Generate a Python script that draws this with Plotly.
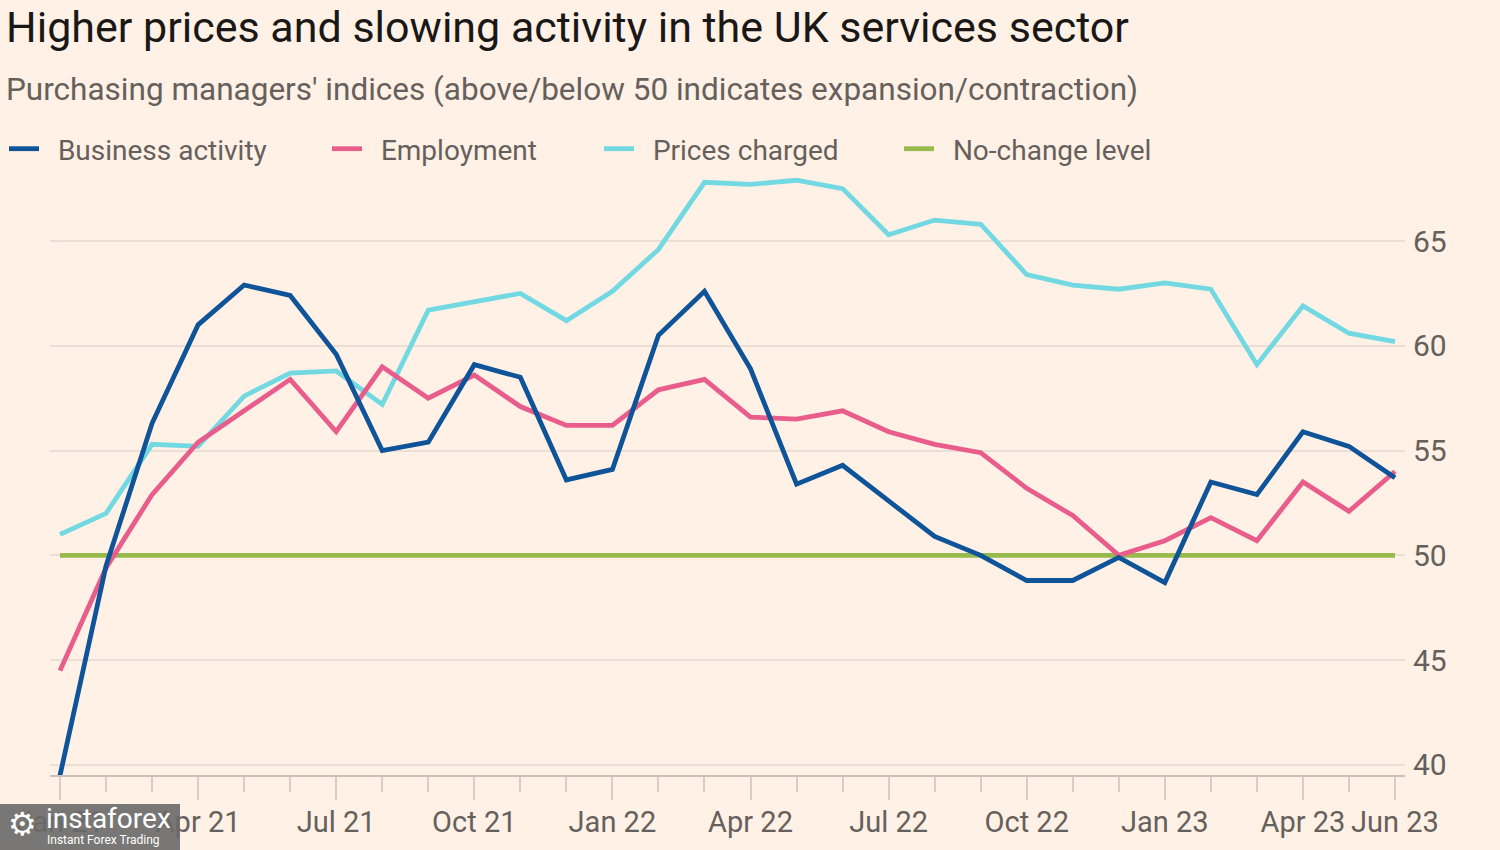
import plotly.graph_objects as go

months = ["Jan 21", "Feb 21", "Mar 21", "Apr 21", "May 21", "Jun 21", "Jul 21", "Aug 21", "Sep 21",
          "Oct 21", "Nov 21", "Dec 21", "Jan 22", "Feb 22", "Mar 22", "Apr 22", "May 22", "Jun 22",
          "Jul 22", "Aug 22", "Sep 22", "Oct 22", "Nov 22", "Dec 22", "Jan 23", "Feb 23", "Mar 23",
          "Apr 23", "May 23", "Jun 23"]

business_activity = [39.5, 49.5, 56.3, 61.0, 62.9, 62.4, 59.6, 55.0, 55.4, 59.1, 58.5, 53.6, 54.1,
                     60.5, 62.6, 58.9, 53.4, 54.3, 52.6, 50.9, 50.0, 48.8, 48.8, 49.9, 48.7, 53.5,
                     52.9, 55.9, 55.2, 53.7]
employment = [44.5, 49.4, 52.9, 55.4, 56.9, 58.4, 55.9, 59.0, 57.5, 58.6, 57.1, 56.2, 56.2, 57.9,
              58.4, 56.6, 56.5, 56.9, 55.9, 55.3, 54.9, 53.2, 51.9, 50.0, 50.7, 51.8, 50.7, 53.5,
              52.1, 54.0]
prices_charged = [51.0, 52.0, 55.3, 55.2, 57.6, 58.7, 58.8, 57.2, 61.7, 62.1, 62.5, 61.2, 62.6,
                  64.6, 67.8, 67.7, 67.9, 67.5, 65.3, 66.0, 65.8, 63.4, 62.9, 62.7, 63.0, 62.7,
                  59.1, 61.9, 60.6, 60.2]
no_change = [50] * len(months)

tick_labels = ["Jan 21", "Apr 21", "Jul 21", "Oct 21", "Jan 22", "Apr 22", "Jul 22", "Oct 22",
               "Jan 23", "Apr 23", "Jun 23"]
y_ticks = [40, 45, 50, 55, 60, 65]

x = list(range(len(months)))
tick_vals = [months.index(t) for t in tick_labels]

FONT = "Roboto"
BG = "#FFF1E5"
TXT = "#66605C"

W, H = 1500, 850
L, R, T, B = 50, 95, 175, 75
PW, PH = W - L - R, H - T - B

def px_x(p):
    return (p - L) / PW

def px_y(p):
    return (H - B - p) / PH

fig = go.Figure()
series = [
    ("No-change level", no_change, "#96BA4C", "legend4"),
    ("Prices charged", prices_charged, "#72D9E3", "legend3"),
    ("Employment", employment, "#E95D8C", "legend2"),
    ("Business activity", business_activity, "#0F5499", "legend"),
]
for name, vals, color, lg in series:
    fig.add_trace(go.Scatter(x=x, y=vals, mode="lines", name="\u00a0\u00a0" + name,
                             line=dict(color=color, width=4.8), legend=lg,
                             hoverinfo="skip"))

legend_pos = {"legend": 10, "legend2": 333, "legend3": 605, "legend4": 905}
legend_common = dict(orientation="h", yanchor="middle", xanchor="left",
                     bgcolor="rgba(0,0,0,0)", font=dict(family=FONT, size=28, color=TXT),
                     itemwidth=30)
layout_legends = {}
for k, p in legend_pos.items():
    layout_legends[k] = dict(legend_common, x=px_x(p - 6), y=px_y(149))

fig.update_layout(
    width=W, height=H,
    paper_bgcolor=BG, plot_bgcolor=BG,
    margin=dict(l=L, r=R, t=T, b=B, autoexpand=False),
    showlegend=True,
    **layout_legends,
    xaxis=dict(
        range=[-10 / 46.03, 29 + 10 / 46.03],
        tickmode="array", tickvals=tick_vals, ticktext=tick_labels,
        ticks="outside", ticklen=23, tickwidth=1.5, tickcolor="#D9CEC4",
        ticklabelstandoff=-3,
        showgrid=False, zeroline=False,
        showline=True, linecolor="#CCC1B7", linewidth=2,
        tickfont=dict(family=FONT, size=29, color=TXT),
        minor=dict(dtick=1, tick0=0, ticks="outside", ticklen=15, tickwidth=1.5,
                   tickcolor="#D9CEC4", showgrid=False),
    ),
    yaxis=dict(
        side="right", range=[39.52, 68.15],
        tickmode="array", tickvals=y_ticks,
        showgrid=True, gridcolor="#EBDFD5", gridwidth=1.5,
        zeroline=False, showline=False, ticks="",
        ticklabelstandoff=7,
        tickfont=dict(family=FONT, size=30, color=TXT),
    ),
    annotations=[
        dict(text="Higher prices and slowing activity in the UK services sector",
             xref="paper", yref="paper", x=px_x(4), y=px_y(27), xanchor="left",
             yanchor="middle", showarrow=False,
             font=dict(family=FONT, size=43, color="#1A1817")),
        dict(text="Purchasing managers' indices (above/below 50 indicates expansion/contraction)",
             xref="paper", yref="paper", x=px_x(4), y=px_y(89), xanchor="left",
             yanchor="middle", showarrow=False,
             font=dict(family=FONT, size=31.5, color=TXT)),
        dict(text="⚙", xref="paper", yref="paper", x=px_x(6), y=px_y(824),
             xanchor="left", yanchor="middle", showarrow=False,
             font=dict(family="DejaVu Sans", size=32, color="white")),
        dict(text="instaforex", xref="paper", yref="paper", x=px_x(44), y=px_y(818),
             xanchor="left", yanchor="middle", showarrow=False,
             font=dict(family=FONT, size=28, color="white")),
        dict(text="Instant Forex Trading", xref="paper", yref="paper", x=px_x(45), y=px_y(840),
             xanchor="left", yanchor="middle", showarrow=False,
             font=dict(family=FONT, size=12, color="white")),
    ],
    shapes=[
        dict(type="rect", xref="paper", yref="paper", x0=px_x(0), x1=px_x(180),
             y0=px_y(804), y1=px_y(850), fillcolor="rgba(105,105,105,0.9)",
             line=dict(width=0), layer="above"),
    ],
)

post = ("document.body.style.margin='0px';document.body.style.padding='0px';"
        "document.body.style.overflow='hidden';"
        "var d=document.getElementsByClassName('plotly-graph-div')[0];"
        "d.style.position='absolute';d.style.left='0px';d.style.top='0px';d.style.margin='0px';")

fig.write_html("out.html", config={"displayModeBar": False}, post_script=post)
